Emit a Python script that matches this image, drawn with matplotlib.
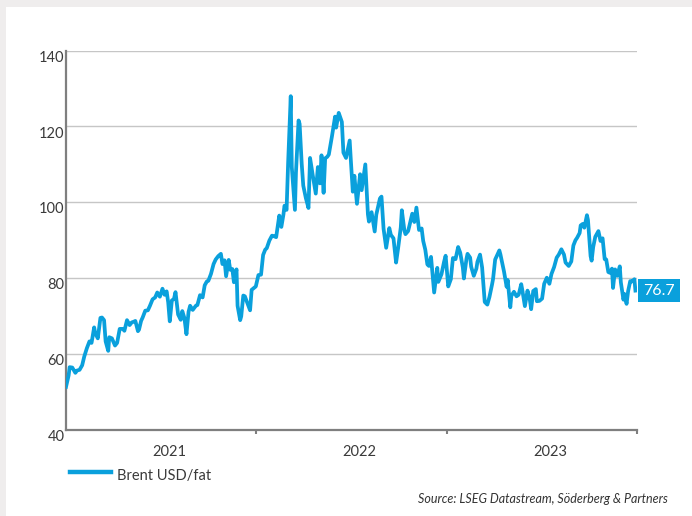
import matplotlib
matplotlib.use("Agg")
import matplotlib.pyplot as plt
import matplotlib.transforms as mtransforms
from matplotlib.lines import Line2D
from matplotlib.patches import Rectangle
import pandas as pd

# Brent crude, USD per barrel
dates_2021 = ["2021-01-01", "2021-01-06", "2021-01-08", "2021-01-13", "2021-01-19", "2021-01-22",
              "2021-01-27", "2021-02-01", "2021-02-05", "2021-02-10", "2021-02-15", "2021-02-19",
              "2021-02-24", "2021-02-26", "2021-03-03", "2021-03-08", "2021-03-11", "2021-03-15",
              "2021-03-18", "2021-03-23", "2021-03-25", "2021-03-30", "2021-04-05", "2021-04-09",
              "2021-04-14", "2021-04-20", "2021-04-23", "2021-04-28", "2021-05-03", "2021-05-07",
              "2021-05-11", "2021-05-14", "2021-05-19", "2021-05-21", "2021-05-25", "2021-05-28",
              "2021-06-02", "2021-06-07", "2021-06-11", "2021-06-16", "2021-06-21", "2021-06-25",
              "2021-06-30", "2021-07-05", "2021-07-09", "2021-07-13", "2021-07-16", "2021-07-19",
              "2021-07-23", "2021-07-27", "2021-07-30", "2021-08-04", "2021-08-09", "2021-08-12",
              "2021-08-16", "2021-08-20", "2021-08-24", "2021-08-27", "2021-09-01", "2021-09-07",
              "2021-09-10", "2021-09-15", "2021-09-20", "2021-09-24", "2021-09-28", "2021-10-01",
              "2021-10-06", "2021-10-11", "2021-10-15", "2021-10-20", "2021-10-25", "2021-10-28",
              "2021-11-01", "2021-11-04", "2021-11-09", "2021-11-12", "2021-11-16", "2021-11-19",
              "2021-11-24", "2021-11-26", "2021-12-01", "2021-12-03", "2021-12-07", "2021-12-10",
              "2021-12-14", "2021-12-20", "2021-12-23", "2021-12-31"]
brent_2021 = [51.3, 54.3, 56.5, 56.4, 55.0, 55.6,
              55.8, 57.0, 59.3, 61.5, 63.3, 62.9,
              67.0, 65.5, 64.1, 69.5, 69.6, 68.9,
              63.3, 60.8, 64.4, 64.1, 62.2, 62.9,
              66.6, 66.6, 66.1, 68.9, 67.6, 68.3,
              68.5, 68.7, 66.0, 66.4, 68.7, 69.6,
              71.4, 71.5, 72.7, 74.4, 74.9, 76.2,
              75.1, 77.2, 75.6, 76.5, 73.6, 68.6,
              74.1, 74.5, 76.3, 70.4, 69.0, 71.3,
              69.5, 65.2, 71.1, 72.7, 71.6, 72.7,
              72.9, 75.5, 74.9, 78.1, 79.1, 79.3,
              81.1, 83.7, 84.9, 85.8, 86.4, 83.7,
              84.7, 80.5, 84.8, 82.2, 82.4, 78.9,
              82.3, 72.7, 68.9, 69.9, 75.4, 75.2,
              73.7, 71.5, 76.9, 77.8]

dates_2022 = ["2022-01-05", "2022-01-10", "2022-01-14", "2022-01-18", "2022-01-21", "2022-01-26",
              "2022-01-31", "2022-02-03", "2022-02-08", "2022-02-14", "2022-02-18", "2022-02-22",
              "2022-02-24", "2022-02-28", "2022-03-03", "2022-03-08", "2022-03-10", "2022-03-16",
              "2022-03-18", "2022-03-23", "2022-03-25", "2022-03-29", "2022-04-01", "2022-04-06",
              "2022-04-11", "2022-04-14", "2022-04-19", "2022-04-25", "2022-04-29", "2022-05-03",
              "2022-05-06", "2022-05-10", "2022-05-13", "2022-05-17", "2022-05-20", "2022-05-26",
              "2022-06-01", "2022-06-03", "2022-06-08", "2022-06-14", "2022-06-17", "2022-06-22",
              "2022-06-29", "2022-07-01", "2022-07-05", "2022-07-08", "2022-07-13", "2022-07-19",
              "2022-07-22", "2022-07-29", "2022-08-03", "2022-08-05", "2022-08-10", "2022-08-16",
              "2022-08-19", "2022-08-26", "2022-08-29", "2022-09-02", "2022-09-07", "2022-09-13",
              "2022-09-16", "2022-09-21", "2022-09-26", "2022-09-30", "2022-10-05", "2022-10-07",
              "2022-10-12", "2022-10-14", "2022-10-19", "2022-10-21", "2022-10-27", "2022-10-31",
              "2022-11-04", "2022-11-09", "2022-11-14", "2022-11-17", "2022-11-21", "2022-11-25",
              "2022-11-28", "2022-12-02", "2022-12-08", "2022-12-14", "2022-12-16", "2022-12-22",
              "2022-12-27", "2022-12-30"]
brent_2022 = [80.8, 80.9, 86.1, 87.5, 87.9, 89.9,
              91.2, 91.1, 90.8, 96.5, 93.5, 96.8,
              99.1, 98.0, 110.5, 128.0, 109.3, 98.0,
              107.9, 121.6, 120.7, 110.2, 104.4, 101.1,
              98.5, 111.7, 107.3, 102.3, 109.3, 105.0,
              112.4, 102.5, 111.6, 112.0, 112.6, 117.4,
              122.6, 119.7, 123.6, 121.2, 113.1, 111.7,
              116.3, 111.6, 102.8, 107.0, 99.6, 107.4,
              103.2, 110.0, 96.8, 94.9, 97.4, 92.3,
              96.7, 101.0, 101.5, 93.0, 88.0, 93.2,
              91.4, 90.5, 84.1, 88.0, 93.4, 97.9,
              92.5, 91.6, 92.4, 93.5, 97.0, 94.8,
              98.6, 92.7, 93.1, 89.8, 87.5, 83.6,
              83.2, 85.6, 76.2, 82.7, 79.0, 81.0,
              84.3, 85.9]

dates_2023 = ["2023-01-04", "2023-01-09", "2023-01-13", "2023-01-18", "2023-01-23", "2023-01-27",
              "2023-02-01", "2023-02-03", "2023-02-08", "2023-02-10", "2023-02-15", "2023-02-17",
              "2023-02-22", "2023-02-27", "2023-03-01", "2023-03-06", "2023-03-10", "2023-03-15",
              "2023-03-20", "2023-03-24", "2023-03-29", "2023-03-31", "2023-04-04", "2023-04-12",
              "2023-04-14", "2023-04-19", "2023-04-21", "2023-04-26", "2023-04-28", "2023-05-03",
              "2023-05-05", "2023-05-10", "2023-05-15", "2023-05-19", "2023-05-24", "2023-05-26",
              "2023-05-31", "2023-06-05", "2023-06-09", "2023-06-12", "2023-06-16", "2023-06-21",
              "2023-06-23", "2023-06-28", "2023-07-03", "2023-07-07", "2023-07-12", "2023-07-17",
              "2023-07-21", "2023-07-26", "2023-07-31", "2023-08-04", "2023-08-09", "2023-08-14",
              "2023-08-17", "2023-08-23", "2023-08-28", "2023-09-01", "2023-09-05", "2023-09-08",
              "2023-09-13", "2023-09-15", "2023-09-19", "2023-09-22", "2023-09-27", "2023-09-29",
              "2023-10-04", "2023-10-06", "2023-10-09", "2023-10-13", "2023-10-19", "2023-10-23",
              "2023-10-27", "2023-10-31", "2023-11-03", "2023-11-07", "2023-11-10", "2023-11-14",
              "2023-11-16", "2023-11-20", "2023-11-24", "2023-11-29", "2023-12-01", "2023-12-06",
              "2023-12-08", "2023-12-12", "2023-12-15", "2023-12-19", "2023-12-22", "2023-12-27",
              "2023-12-29"]
brent_2023 = [77.8, 79.7, 85.3, 85.0, 88.2, 86.7,
              82.8, 79.9, 85.1, 86.4, 85.4, 83.0,
              80.6, 82.5, 84.3, 86.2, 82.8, 73.7,
              73.0, 75.0, 78.3, 79.8, 84.9, 87.3,
              86.3, 83.1, 81.7, 77.7, 79.5, 72.3,
              75.3, 76.4, 75.2, 75.6, 78.4, 76.9,
              72.6, 76.7, 74.8, 71.8, 76.6, 77.1,
              73.9, 74.0, 74.6, 78.5, 80.1, 78.5,
              81.1, 82.9, 85.4, 86.2, 87.6, 86.2,
              84.1, 83.2, 84.4, 88.6, 90.0, 90.6,
              91.9, 93.9, 94.3, 93.3, 96.6, 95.3,
              85.8, 84.6, 88.2, 90.9, 92.4, 89.8,
              90.5, 85.0, 84.9, 81.6, 81.4, 82.5,
              77.4, 82.3, 80.6, 83.1, 78.9, 74.3,
              75.8, 73.2, 76.6, 79.2, 79.1, 79.7,
              76.7]

year_labels = ["2021", "2022", "2023"]
series_label = "Brent USD/fat"
source_text = "Source: LSEG Datastream, Söderberg & Partners"

dates = pd.to_datetime(dates_2021 + dates_2022 + dates_2023)
brent = brent_2021 + brent_2022 + brent_2023

blue = "#0aa0dc"
text_col = "#3a3a3a"
plt.rcParams["font.family"] = ["Lato", "DejaVu Sans"]

W, H = 692, 516
fig = plt.figure(figsize=(W / 100, H / 100), dpi=100, facecolor="#efeded")
# white panel inside the grey frame
fig.add_artist(Rectangle((6 / W, 0), 1, 1 - 7 / H, transform=fig.transFigure,
                         facecolor="white", edgecolor="none", zorder=0))

ax = fig.add_axes([66 / W, 1 - 429.7 / H, (637 - 66) / W, 379 / H])
ax.set_facecolor("none")
ax.plot(dates, brent, color=blue, lw=2.7, solid_joinstyle="round", zorder=3)

ax.set_xlim(pd.Timestamp("2021-01-01"), pd.Timestamp("2024-01-01"))
ax.set_ylim(40, 140)

ax.set_yticks([40, 60, 80, 100, 120, 140])
ax.tick_params(axis="y", length=0, pad=1, labelsize=10.5, labelcolor=text_col)
for lbl in ax.get_yticklabels():
    lbl.set_verticalalignment("top")
ax.grid(axis="y", color="#c6c6c6", lw=1.0)
ax.set_axisbelow(True)

# year boundary ticks and centred year labels
ax.set_xticks(pd.to_datetime(["2022-01-01", "2023-01-01", "2024-01-01"]))
ax.set_xticklabels([])
ax.tick_params(axis="x", which="major", length=3, width=1.5, color="#7f7f7f")
ax.set_xticks(pd.to_datetime([y + "-07-18" for y in year_labels]), minor=True)
ax.set_xticklabels(year_labels, minor=True)
ax.tick_params(axis="x", which="minor", length=0, pad=11, labelsize=10.5, labelcolor=text_col)

for s in ["top", "right"]:
    ax.spines[s].set_visible(False)
for s in ["left", "bottom"]:
    ax.spines[s].set_color("#7f7f7f")
    ax.spines[s].set_linewidth(1.6)

# last value tag
last = brent[-1]
tr = mtransforms.blended_transform_factory(ax.transAxes, ax.transData)
ax.add_patch(Rectangle((1.002, last - 3.05), 0.074, 6.1, transform=tr,
                       facecolor=blue, edgecolor="none", clip_on=False, zorder=4))
ax.text(1.039, last, f"{last:.1f}", transform=tr, ha="center", va="center",
        color="white", fontsize=11.5, zorder=5)

# legend
fig.add_artist(Line2D([70 / W, 111 / W], [1 - 472 / H, 1 - 472 / H], color=blue, lw=3.2,
                      transform=fig.transFigure))
fig.text(117 / W, 1 - 476 / H, series_label, ha="left", va="center",
         fontsize=10.5, color=text_col)

fig.text(668 / W, 1 - 499 / H, source_text, ha="right", va="center",
         fontsize=9, style="italic", color="#333333")

fig.savefig("out.png", dpi=100, facecolor=fig.get_facecolor())
